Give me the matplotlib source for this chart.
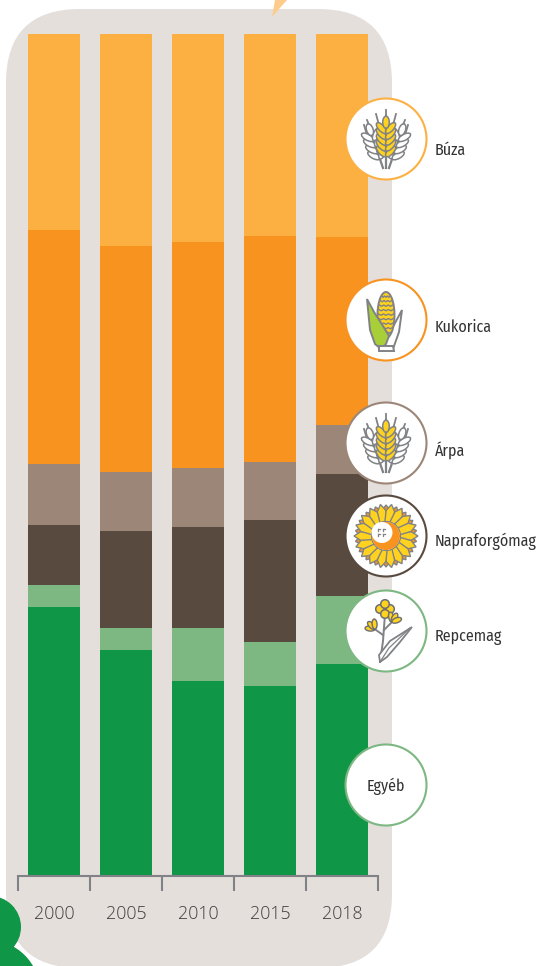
import numpy as np
import matplotlib
matplotlib.use("Agg")
import matplotlib.pyplot as plt
from matplotlib.patches import Circle, Ellipse, FancyBboxPatch, Polygon

# share of each crop per year (%)
years = ["2000", "2005", "2010", "2015", "2018"]
buza = [23.3, 25.2, 24.7, 24.0, 24.1]
kukorica = [27.8, 26.8, 26.8, 26.8, 22.3]
arpa = [7.2, 7.0, 7.0, 6.9, 5.8]
napraforgo = [7.1, 11.5, 12.1, 14.5, 14.6]
repce = [2.7, 2.7, 6.2, 5.2, 8.0]
egyeb = [31.9, 26.8, 23.2, 22.6, 25.2]

# bottom to top
series = [egyeb, repce, napraforgo, arpa, kukorica, buza]
colors = ["#0F9647", "#7DB782", "#594A3F", "#9C8677", "#F7931E", "#FDB042"]

labels = ["Búza", "Kukorica", "Árpa", "Napraforgómag", "Repcemag"]

GRAY = "#808285"
YELLOW = "#FFD21F"
W, H = 541, 966
LABEL_FONT = ["Fira Sans Condensed", "Open Sans"]

fig = plt.figure(figsize=(W / 100, H / 100), dpi=100)

# background shapes, in pixels
bg = fig.add_axes([0, 0, 1, 1], zorder=0)
bg.set_xlim(0, W)
bg.set_ylim(H, 0)
bg.axis("off")
bg.add_patch(FancyBboxPatch((6, 9), 386, 959, boxstyle="round,pad=0,rounding_size=74",
                            fc="#E5DFDC", ec="none"))
bg.add_patch(Polygon([(272, 17), (275, 0), (287, 0)], fc="#FDCB8C", ec="none"))
bg.add_patch(Circle((-10, 927), 31, fc="#0F9647", ec="none"))
bg.add_patch(Circle((-12, 992), 52, fc="#0F9647", ec="none"))

# the stacked bars
ax = fig.add_axes([18 / W, (H - 876) / H, 360 / W, 842 / H], zorder=1)
ax.patch.set_alpha(0)
x = np.arange(len(years))
bottom = np.zeros(len(years))
for vals, col in zip(series, colors):
    ax.bar(x, vals, width=0.71, bottom=bottom, color=col, linewidth=0)
    bottom += np.array(vals)
ax.set_xlim(-0.5, 4.5)
ax.set_ylim(0, 100)
for s in ["top", "left", "right"]:
    ax.spines[s].set_visible(False)
ax.spines["bottom"].set_color(GRAY)
ax.spines["bottom"].set_linewidth(1.5)
ax.set_yticks([])
ax.set_xticks(x)
ax.set_xticklabels(years, fontsize=12.8, color="#3C3C3C", family="Open Sans", fontweight="light")
ax.tick_params(axis="x", which="major", length=0, pad=21)
ax.set_xticks(np.arange(-0.5, 5), minor=True)
ax.tick_params(axis="x", which="minor", length=10.8, width=1.5, color=GRAY)

# circles and icons, in pixels
ov = fig.add_axes([0, 0, 1, 1], zorder=2)
ov.patch.set_alpha(0)
ov.set_xlim(0, W)
ov.set_ylim(H, 0)
ov.axis("off")


def grain(cx, cy, ang, fc, a=6.8, b=3.0, z=5):
    ov.add_patch(Ellipse((cx, cy), a * 2, b * 2, angle=ang, fc=fc, ec=GRAY, lw=1.1, zorder=z))


def ear(bx, by, tilt, fc, n, length, z=5):
    # one ear of wheat, growing up from (bx, by) and leaning by tilt degrees
    t = np.radians(tilt)
    ux, uy = np.sin(t), -np.cos(t)
    px, py = np.cos(t), np.sin(t)
    ov.plot([bx, bx + ux * length], [by, by + uy * length], color=GRAY, lw=1.6, zorder=z - 1)
    for i in range(n):
        d = length * 0.32 + i * length * 0.56 / n
        for side in (-1, 1):
            gx = bx + ux * d + px * side * 4.6
            gy = by + uy * d + py * side * 4.6
            grain(gx, gy, tilt - 90 + side * 42, fc, z=z)
    grain(bx + ux * length * 0.88, by + uy * length * 0.88, tilt - 90, fc, 6, 3.3, z=z)


def wheat(cx, cy):
    ear(cx - 3, cy + 29, -19, "white", 4, 46, z=5)
    ear(cx + 3, cy + 29, 19, "white", 4, 46, z=5)
    ear(cx, cy + 29, 0, YELLOW, 5, 52, z=7)
    # awns
    ov.plot([cx, cx], [cy - 29, cy - 16], color=GRAY, lw=1.3, zorder=6)
    for dx0, dy0, dx1, dy1 in [(-7, -14, -10, -25), (7, -14, 10, -25), (-14, -7, -19, -19),
                               (14, -7, 19, -19), (-19, -4, -22, -14), (19, -4, 22, -14)]:
        ov.plot([cx + dx0, cx + dx1], [cy + dy0, cy + dy1], color=GRAY, lw=1.3, zorder=4)


def corn(cx, cy):
    ov.add_patch(Polygon([(cx + 16, cy - 10), (cx + 13, cy + 12), (cx + 7, cy + 29), (cx - 3, cy + 29), (cx + 1, cy + 18)],
                         fc="white", ec=GRAY, lw=1.4, zorder=4))
    ov.add_patch(Ellipse((cx, cy - 5), 17, 46, fc=YELLOW, ec=GRAY, lw=1.4, zorder=5))
    yy = np.arange(cy - 24, cy + 16, 4.5)
    for k, yv in enumerate(yy):
        half = 7.5 * np.sqrt(max(0, 1 - ((yv - (cy - 5)) / 23) ** 2))
        xs = np.linspace(cx - half, cx + half, 7)
        ys = yv + np.array([0, 1.3, 0, 1.3, 0, 1.3, 0])
        ov.plot(xs, ys, color=GRAY, lw=1.0, zorder=6)
    ov.add_patch(Polygon([(cx - 19, cy - 21), (cx - 12, cy - 8), (cx - 3, cy + 6), (cx + 3, cy + 16), (cx + 0, cy + 24),
                          (cx - 5, cy + 29), (cx - 11, cy + 24), (cx - 16, cy + 10)],
                         fc="#A8CF38", ec=GRAY, lw=1.4, zorder=7))
    ov.add_patch(Polygon([(cx - 7, cy + 26), (cx + 7, cy + 26), (cx + 8, cy + 31), (cx - 7, cy + 31)],
                         fc="white", ec=GRAY, lw=1.4, zorder=8))


def petal(cx, cy, ang, r0, r1, w, fc):
    a = np.radians(ang)
    u = np.array([np.cos(a), np.sin(a)])
    p = np.array([-u[1], u[0]])
    c = np.array([cx, cy])
    pts = [c + u * r0 - p * w, c + u * (r0 + r1) * 0.55 - p * w * 1.2, c + u * r1, c + u * (r0 + r1) * 0.55 + p * w * 1.2, c + u * r0 + p * w]
    ov.add_patch(Polygon(pts, fc=fc, ec=GRAY, lw=1.0, zorder=5))


def sunflower(cx, cy):
    for ang in np.arange(10, 370, 20):
        petal(cx, cy, ang, 12, 31, 4.5, "#F7931E")
    for ang in np.arange(0, 360, 20):
        petal(cx, cy, ang, 14, 32, 3.6, YELLOW)
    ov.add_patch(Circle((cx, cy), 14.5, fc="white", ec=GRAY, lw=0.8, zorder=6))
    ov.add_patch(Circle((cx, cy), 14, fc="#F7931E", ec="none", zorder=7))
    ov.add_patch(Circle((cx - 4, cy - 3.5), 10.5, fc="white", ec="none", zorder=8))
    for dx, dy in [(-8, -7), (-3, -7), (-8, -2), (-3, -2)]:
        ov.plot([dx + cx, dx + cx + 2], [dy + cy, dy + cy], color=GRAY, lw=0.9, zorder=9)
        ov.plot([dx + cx, dx + cx], [dy + cy, dy + cy + 2], color=GRAY, lw=0.9, zorder=9)


def rape(cx, cy):
    ov.plot([cx - 6, cx - 3, cx - 1], [cy + 31, cy + 10, cy - 17], color=GRAY, lw=1.4, zorder=4)
    ov.plot([cx - 3, cx - 10], [cy + 4, cy - 1], color=GRAY, lw=1.4, zorder=4)
    ov.plot([cx - 2, cx + 6], [cy - 1, cy - 9], color=GRAY, lw=1.4, zorder=4)
    # leaf
    ov.add_patch(Polygon([(cx - 6, cy + 31), (cx - 7, cy + 24), (cx + 4, cy + 10), (cx + 26, cy - 4), (cx + 14, cy + 11), (cx + 1, cy + 26)],
                         fc="white", ec=GRAY, lw=1.3, zorder=5))
    ov.plot([cx - 6, cx + 3, cx + 24], [cy + 31, cy + 17, cy - 3], color=GRAY, lw=0.9, zorder=6)
    # top flower
    for dx, dy in [(-6, -22), (4, -22), (-1, -27), (-1, -17)]:
        ov.add_patch(Circle((cx + dx, cy + dy), 4.3, fc=YELLOW, ec="#6D6E71", lw=1.1, zorder=6))
    # side flowers
    for bx, by, angs in [(cx - 11, cy - 2, (-175, -135, -95)), (cx + 6, cy - 9, (-100, -60, -20))]:
        for a in angs:
            r = np.radians(a)
            ov.add_patch(Ellipse((bx + np.cos(r) * 5, by + np.sin(r) * 5), 10, 5, angle=a,
                                 fc=YELLOW, ec="#6D6E71", lw=1.0, zorder=6))


circle_x = 386
circle_y = [139, 320, 443, 536, 631, 785]
ring_colors = ["#FDB042", "#F7931E", "#9C8677", "#594A3F", "#7DB782", "#7DB782"]
for cy, rc in zip(circle_y, ring_colors):
    ov.add_patch(Circle((circle_x, cy), 40.5, fc="white", ec=rc, lw=1.5, zorder=3))

wheat(circle_x, circle_y[0])
corn(circle_x, circle_y[1])
wheat(circle_x, circle_y[2])
sunflower(circle_x, circle_y[3])
rape(circle_x, circle_y[4])

label_y = [150, 327, 450, 541, 637.5]
for lab, ly in zip(labels, label_y):
    ov.text(435, ly, lab, fontsize=11.5, color="#333333", family=LABEL_FONT, ha="left", va="center")
ov.text(circle_x, 786, "Egyéb", fontsize=11.5, color="#333333", family=LABEL_FONT,
        ha="center", va="center", zorder=5)

fig.savefig("out.png", dpi=100)
